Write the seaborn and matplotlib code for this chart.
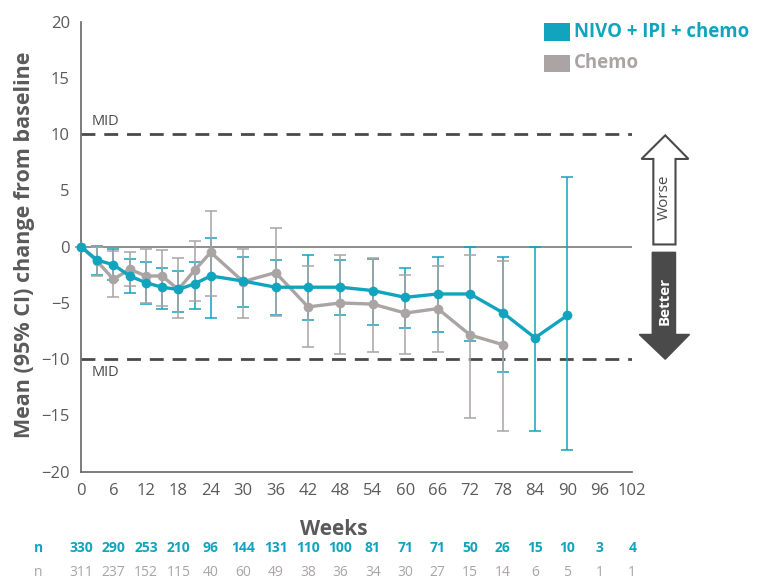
import matplotlib
matplotlib.use("Agg")
import matplotlib.pyplot as plt
from matplotlib.patches import Polygon, Rectangle
import seaborn as sns
import numpy as np
import pandas as pd

# mean change from baseline with 95% CI
nivo_weeks = [0, 3, 6, 9, 12, 15, 18, 21, 24, 30, 36, 42, 48, 54, 60, 66, 72, 78, 84, 90]
nivo_mean = [0, -1.2, -1.6, -2.6, -3.2, -3.6, -3.8, -3.3, -2.6, -3.05, -3.6, -3.6, -3.6, -3.9, -4.5, -4.2, -4.2, -5.85, -8.1, -6.1]
nivo_lo = [0, -2.5, -3.0, -4.15, -5.1, -5.55, -5.8, -5.5, -6.3, -5.4, -6.1, -6.5, -6.1, -7.0, -7.25, -7.55, -8.35, -11.1, -16.4, -18.1]
nivo_hi = [0, 0.1, -0.2, -1.05, -1.4, -1.85, -2.2, -1.4, 0.8, -0.9, -1.15, -0.7, -1.15, -1.05, -1.9, -0.9, 0.0, -0.9, 0.0, 6.2]

chemo_weeks = [0, 3, 6, 9, 12, 15, 18, 21, 24, 30, 36, 42, 48, 54, 60, 66, 72, 78]
chemo_mean = [0, -1.3, -2.9, -2.0, -2.6, -2.6, -3.8, -2.1, -0.5, -3.1, -2.3, -5.35, -5.0, -5.1, -5.9, -5.5, -7.85, -8.7]
chemo_lo = [0, -2.6, -4.5, -3.5, -5.0, -5.3, -6.3, -4.8, -4.4, -6.35, -6.2, -8.9, -9.5, -9.4, -9.5, -9.4, -15.2, -16.4]
chemo_hi = [0, 0.0, -0.4, -0.5, -0.2, -0.3, -1.0, 0.55, 3.2, -0.2, 1.65, -1.7, -0.75, -1.0, -2.55, -1.7, -0.7, -1.3]

tick_weeks = list(range(0, 103, 6))
nivo_n = [330, 290, 253, 210, 96, 144, 131, 110, 100, 81, 71, 71, 50, 26, 15, 10, 3, 4]
chemo_n = [311, 237, 152, 115, 40, 60, 49, 38, 36, 34, 30, 27, 15, 14, 6, 5, 1, 1]

teal = "#12a3bf"
grey = "#aaa4a4"
dark = "#4a4a4a"
txt = "#5a5a5a"

sns.set_style("white")
plt.rcParams["font.family"] = ["Open Sans", "DejaVu Sans"]

fig = plt.figure(figsize=(7.65, 5.79), dpi=100)
ax = fig.add_axes([0.1059, 0.1853, 0.7206, 0.7772])

df_n = pd.DataFrame({"week": nivo_weeks, "mean": nivo_mean})
df_c = pd.DataFrame({"week": chemo_weeks, "mean": chemo_mean})

# error bars
ax.errorbar(nivo_weeks, nivo_mean,
            yerr=[np.array(nivo_mean) - np.array(nivo_lo), np.array(nivo_hi) - np.array(nivo_mean)],
            fmt="none", ecolor=teal, elinewidth=1.1, capsize=4.4, capthick=1.1, zorder=2, clip_on=False)
ax.errorbar(chemo_weeks, chemo_mean,
            yerr=[np.array(chemo_mean) - np.array(chemo_lo), np.array(chemo_hi) - np.array(chemo_mean)],
            fmt="none", ecolor=grey, elinewidth=1.1, capsize=4.4, capthick=1.1, zorder=3, clip_on=False)

sns.lineplot(data=df_c, x="week", y="mean", ax=ax, color=grey, lw=2.4, marker="o",
             markersize=7, markeredgewidth=0, zorder=4, clip_on=False)
sns.lineplot(data=df_n, x="week", y="mean", ax=ax, color=teal, lw=2.4, marker="o",
             markersize=7, markeredgewidth=0, zorder=5, clip_on=False)

# reference lines
ax.plot([0, 102], [0, 0], color="#7a7a7a", lw=1.2, zorder=1)
for yv in (10, -10):
    ax.plot([0, 102], [yv, yv], color=dark, lw=2.0, dashes=(5, 3.2), zorder=1)
ax.text(2, 10.5, "MID", fontsize=10.5, color=dark, ha="left", va="bottom")
ax.text(2, -10.5, "MID", fontsize=10.5, color=dark, ha="left", va="top")

# worse / better arrows
worse = Polygon([(105.9, 0.2), (110.0, 0.2), (110.0, 7.8), (112.4, 7.8), (108.1, 9.9),
                 (103.7, 7.8), (105.9, 7.8)], closed=True, facecolor="white",
                edgecolor=dark, lw=1.5, clip_on=False, zorder=5)
better = Polygon([(105.7, -0.5), (110.0, -0.5), (110.0, -7.8), (112.6, -7.8), (108.1, -10.0),
                  (103.3, -7.8), (105.7, -7.8)], closed=True, facecolor=dark,
                 edgecolor=dark, lw=1.0, clip_on=False, zorder=5)
ax.add_patch(worse)
ax.add_patch(better)
ax.text(108.0, 4.4, "Worse", rotation=90, ha="center", va="center", fontsize=11,
        color=dark, clip_on=False, zorder=6)
ax.text(107.9, -4.8, "Better", rotation=90, ha="center", va="center", fontsize=11,
        color="white", fontweight="bold", clip_on=False, zorder=6)

ax.set_xlim(0, 102)
ax.set_ylim(-20, 20)
ax.set_xticks(tick_weeks)
ax.set_yticks(range(-20, 21, 5))
sns.despine(ax=ax)
for s in ("left", "bottom"):
    ax.spines[s].set_color("#666666")
    ax.spines[s].set_linewidth(1.2)
ax.tick_params(axis="both", direction="out", length=5, width=1.2, color="#666666",
               labelsize=12, labelcolor=txt, pad=3)
ax.set_xlabel("Weeks", fontsize=15, fontweight="bold", color=txt)
ax.set_ylabel("Mean (95% CI) change from baseline", fontsize=15.5, fontweight="bold",
              color=txt)
ax.xaxis.set_label_coords(0.459, -0.105)
ax.yaxis.set_label_coords(-0.083, 0.505)

# number at risk rows
fig.text(38 / 765, 1 - 548 / 579, "n", fontsize=10, color=teal, fontweight="bold", ha="center", va="center")
fig.text(38 / 765, 1 - 572 / 579, "n", fontsize=10, color=grey, ha="center", va="center")
for w, a, b in zip(tick_weeks, nivo_n, chemo_n):
    xf = fig.transFigure.inverted().transform(ax.transData.transform((w, 0)))[0]
    fig.text(xf, 1 - 548 / 579, str(a), fontsize=10, color=teal, fontweight="bold", ha="center", va="center")
    fig.text(xf, 1 - 572 / 579, str(b), fontsize=10, color=grey, ha="center", va="center")

# legend
fig.patches.append(Rectangle((544 / 765, 1 - 41 / 579), 26 / 765, 18 / 579, transform=fig.transFigure,
                             facecolor=teal, edgecolor="none"))
fig.patches.append(Rectangle((544 / 765, 1 - 72 / 579), 26 / 765, 17 / 579, transform=fig.transFigure,
                             facecolor=grey, edgecolor="none"))
fig.text(574 / 765, 1 - 32 / 579, "NIVO + IPI + chemo", fontsize=13.4, fontweight="bold", color=teal,
         ha="left", va="center")
fig.text(574 / 765, 1 - 63 / 579, "Chemo", fontsize=13.4, fontweight="bold", color=grey,
         ha="left", va="center")

fig.savefig("out.png", dpi=100)
